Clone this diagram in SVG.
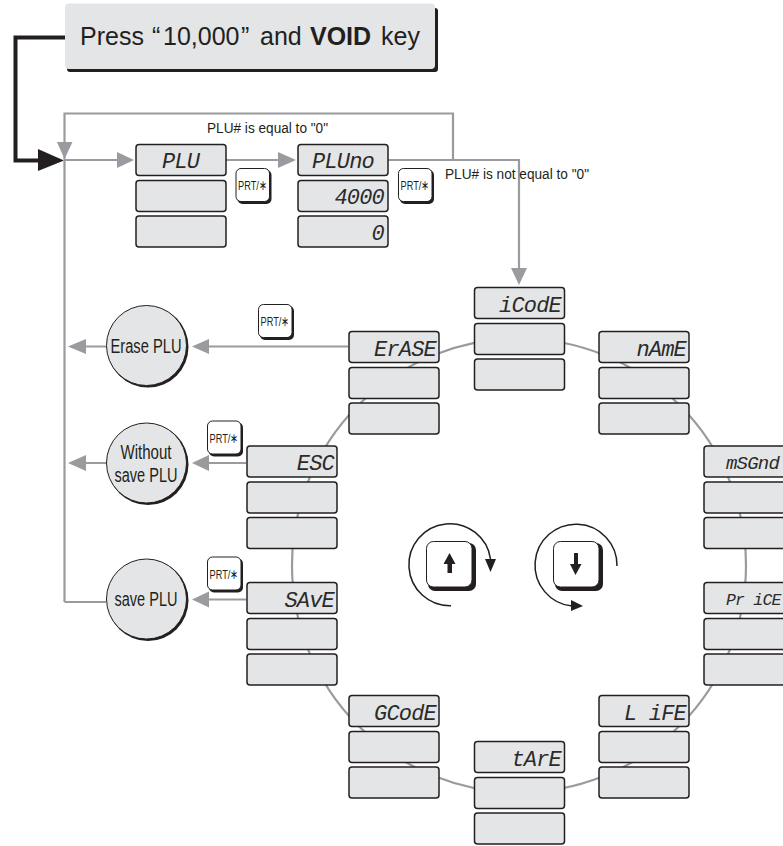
<svg xmlns="http://www.w3.org/2000/svg" xmlns:xlink="http://www.w3.org/1999/xlink" width="783" height="846" viewBox="0 0 783 846">
<style>
.b{fill:#e4e5e6;stroke:#231f20;stroke-width:1.5}
.g{fill:none;stroke:#999b9e;stroke-width:2.2}
.gh{fill:#999b9e}
.k{fill:none;stroke:#231f20;stroke-width:1.5}
.d{font-family:"Liberation Mono",monospace;font-style:italic;font-size:22px;letter-spacing:-0.800px;fill:#2b2b2b}
.t{font-family:"Liberation Sans",Arial,sans-serif;fill:#231f20}
.l{font-size:14px}
.c{font-size:19.500px;text-anchor:middle}
.p{font-size:13.500px}
</style>
<defs>
<g id="stack">
<rect class="b" x="0" y="0" width="90" height="31" rx="3"/>
<rect class="b" x="0" y="36" width="90" height="31" rx="3"/>
<rect class="b" x="0" y="71.500" width="90" height="31" rx="3"/>
</g>
<g id="prt">
<rect x="2" y="2" width="34" height="34" rx="5" fill="#231f20"/>
<rect x="0.500" y="0.500" width="33.500" height="33" rx="5" fill="#fff" stroke="#231f20" stroke-width="1"/>
<text class="t p" x="2.500" y="22" textLength="29" lengthAdjust="spacingAndGlyphs">PRT/∗</text>
</g>
<g id="key">
<rect x="2" y="2" width="48" height="48" rx="7" fill="#231f20"/>
<rect x="0.500" y="0.500" width="45.500" height="45.500" rx="7" fill="#fff" stroke="#231f20" stroke-width="1"/>
</g>
</defs>

<g id="connectors">
<circle class="g" cx="519" cy="565.500" r="227"/>
<path d="M65 37.500H15.500V160.500H42" fill="none" stroke="#231f20" stroke-width="4"/>
<path d="M38 149L64 160.500L38 171z" fill="#231f20"/>
<path class="g" d="M64.500 602H106M64.500 160V113.500H453V160M64.500 160V602"/>
<path class="g" d="M64.500 160H120M226 160H282M388 160H519V272"/>
<path class="gh" d="M57 142L72.500 142L64.500 159z"/>
<path class="gh" d="M117 152L134 160L117 168z"/>
<path class="gh" d="M278 152L296 160L278 168z"/>
<path class="gh" d="M511 268L527 268L519 285z"/>
<path class="g" d="M348 346.500H205M106 346.500H82"/>
<path class="gh" d="M209 339L192 346.500L209 354z"/>
<path class="gh" d="M86 339L68 346.500L86 354z"/>
<path class="g" d="M246 463H205M106 463H82"/>
<path class="gh" d="M209 455L192 463L209 471z"/>
<path class="gh" d="M86 455L68 463L86 471z"/>
<path class="g" d="M246 599.500H205"/>
<path class="gh" d="M209 591.500L192 599.500L209 607.500z"/>
</g>

<g id="press">
<rect x="67" y="8" width="371" height="64" rx="3" fill="#231f20"/>
<rect x="65" y="3.500" width="370" height="65.500" rx="4" fill="#e4e5e6"/>
<text class="t" x="80" y="45" font-size="25">Press <tspan x="152">“</tspan><tspan x="163">10,000</tspan><tspan x="241">”</tspan> <tspan x="260">and</tspan> <tspan x="310" font-weight="bold">VOID</tspan> <tspan x="381">key</tspan></text>
</g>

<g id="n-plu"><use xlink:href="#stack" x="136" y="144.500"/><text class="d" x="162" y="168">PLU</text></g>
<g id="n-pluno"><use xlink:href="#stack" x="298" y="144.500"/><text class="d" x="312" y="168">PLUno</text><text class="d" x="384" y="204" text-anchor="end">4000</text><text class="d" x="384" y="240" text-anchor="end">0</text></g>
<g id="n-icode"><use xlink:href="#stack" x="474.500" y="287.500"/><text class="d" x="561" y="311.500" text-anchor="end">iCodE</text></g>
<g id="n-erase"><use xlink:href="#stack" x="349" y="331.500"/><text class="d" x="436" y="355.500" text-anchor="end">ErASE</text></g>
<g id="n-name"><use xlink:href="#stack" x="599" y="331.500"/><text class="d" x="686" y="355.500" text-anchor="end">nAmE</text></g>
<g id="n-msgnd"><use xlink:href="#stack" x="704" y="446"/><text class="d" x="726" y="469" style="font-size:19px">mSGnd</text></g>
<g id="n-price"><use xlink:href="#stack" x="704" y="582.500"/><text class="d" x="726" y="605" style="font-size:16.500px">Pr iCE</text></g>
<g id="n-life"><use xlink:href="#stack" x="599" y="695.500"/><text class="d" x="686" y="719.500" text-anchor="end">L iFE</text></g>
<g id="n-tare"><use xlink:href="#stack" x="474.500" y="741.500"/><text class="d" x="561" y="765.500" text-anchor="end">tArE</text></g>
<g id="n-gcode"><use xlink:href="#stack" x="349" y="695.500"/><text class="d" x="436" y="719.500" text-anchor="end">GCodE</text></g>
<g id="n-esc"><use xlink:href="#stack" x="247" y="446"/><text class="d" x="334" y="470" text-anchor="end">ESC</text></g>
<g id="n-save"><use xlink:href="#stack" x="247" y="582.500"/><text class="d" x="334" y="606.500" text-anchor="end">SAvE</text></g>

<g id="n-erase-plu">
<circle cx="148" cy="347" r="40.500" fill="#231f20"/>
<circle cx="146.500" cy="345.500" r="40" fill="#e4e5e6" stroke="#231f20" stroke-width="1"/>
<text class="t c" x="146" y="352.500" textLength="71" lengthAdjust="spacingAndGlyphs">Erase PLU</text>
</g>
<g id="n-without">
<circle cx="148" cy="464.500" r="40.500" fill="#231f20"/>
<circle cx="146.500" cy="463" r="40" fill="#e4e5e6" stroke="#231f20" stroke-width="1"/>
<text class="t c" x="146" y="459" textLength="51" lengthAdjust="spacingAndGlyphs">Without</text>
<text class="t c" x="146" y="481.500" textLength="63" lengthAdjust="spacingAndGlyphs">save PLU</text>
</g>
<g id="n-save-plu">
<circle cx="148" cy="600.500" r="40.500" fill="#231f20"/>
<circle cx="146.500" cy="599" r="40" fill="#e4e5e6" stroke="#231f20" stroke-width="1"/>
<text class="t c" x="146" y="605.500" textLength="63" lengthAdjust="spacingAndGlyphs">save PLU</text>
</g>

<g id="keys">
<use xlink:href="#prt" x="235.500" y="168"/>
<use xlink:href="#prt" x="398" y="168"/>
<use xlink:href="#prt" x="258" y="304"/>
<use xlink:href="#prt" x="207" y="420.500"/>
<use xlink:href="#prt" x="207" y="556.500"/>
</g>

<g id="labels">
<text class="t l" x="207" y="133" textLength="121" lengthAdjust="spacingAndGlyphs">PLU# is equal to "0"</text>
<text class="t l" x="445" y="179" textLength="144" lengthAdjust="spacingAndGlyphs">PLU# is not equal to "0"</text>
</g>

<g id="key-up">
<use xlink:href="#key" x="426" y="541"/>
<path d="M449.500 553L455.500 564H452V573H447.500V564H443.500z" fill="#231f20"/>
<path class="k" d="M451 605.700A41 41 0 1 1 490.500 559"/>
<path d="M485 559H496L490.500 572z" fill="#231f20"/>
</g>
<g id="key-down">
<use xlink:href="#key" x="553" y="541"/>
<path d="M575.500 575L581.500 564H578V553H574V564H570z" fill="#231f20"/>
<path class="k" d="M617 566A41 41 0 1 0 572 606"/>
<path d="M571 600L583 606L571 611z" fill="#231f20"/>
</g>
</svg>
